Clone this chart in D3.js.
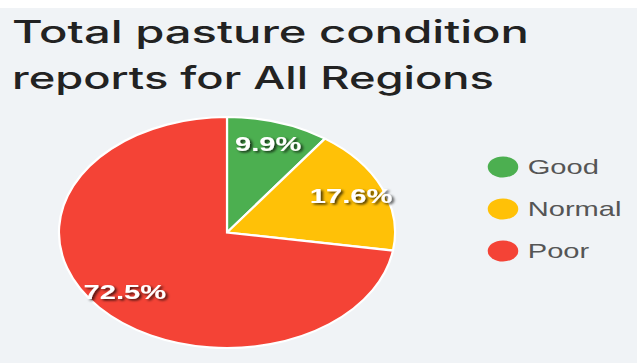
<!DOCTYPE html>
<html><head><meta charset="utf-8">
<script src="https://cdn.jsdelivr.net/npm/d3@7"></script>
<style>
html,body{margin:0;padding:0;background:#fff;}
svg{display:block;}
</style></head>
<body>
<svg id="c" width="637" height="363"></svg>
<script>
const categories = ["Good", "Normal", "Poor"];
const values = [9.9, 17.6, 72.5];
const colors = ["#4caf50", "#ffc107", "#f44336"];
const titleLines = ["Total pasture condition", "reports for All Regions"];

const W = 637, H = 363, SX = 1.455;
const svg = d3.select("#c");
svg.append("rect").attr("x",0).attr("y",8).attr("width",W).attr("height",H-8).attr("fill","#f0f3f6");

const defs = svg.append("defs");
const f = defs.append("filter").attr("id","sh").attr("x","-20%").attr("y","-40%").attr("width","140%").attr("height","180%");
f.append("feDropShadow").attr("dx",1.5).attr("dy",1.5).attr("stdDeviation",1.2).attr("flood-color","#000").attr("flood-opacity",0.75);

// title
const titleW = [517, 482];
svg.selectAll("text.title").data(titleLines).join("text")
  .attr("class","title")
  .attr("x",12).attr("y",(d,i)=>43+i*46)
  .attr("font-family","Inter, 'Open Sans', sans-serif").attr("font-size",31)
  .attr("font-weight",500)
  .attr("fill","#222")
  .attr("textLength",(d,i)=>titleW[i]).attr("lengthAdjust","spacingAndGlyphs")
  .text(d=>d);

const g = svg.append("g").attr("transform",`scale(${SX},1)`);
const cx = 227/SX, cy = 232.5, r = 115.5;

const pie = d3.pie().sort(null).value(d=>d);
const arcs = pie(values);
const arc = d3.arc().innerRadius(0).outerRadius(r);
const labelArc = d3.arc().innerRadius(r*0.8).outerRadius(r*0.8);

const pg = g.append("g").attr("transform",`translate(${cx},${cy})`);
pg.selectAll("path").data(arcs).join("path")
  .attr("d",arc).attr("fill",(d,i)=>colors[i])
  .attr("stroke","#fff").attr("stroke-width",2.2)
  .attr("vector-effect","non-scaling-stroke");

pg.selectAll("text").data(arcs).join("text")
  .attr("transform",d=>`translate(${labelArc.centroid(d)})`)
  .attr("text-anchor","middle").attr("dy","0.3em")
  .attr("font-family","'Liberation Sans', Arial, sans-serif")
  .attr("font-weight","bold").attr("font-size",20)
  .attr("fill","#fff").attr("filter","url(#sh)")
  .text(d=>d.data.toFixed(1)+"%");

// legend
const lg = g.append("g").attr("transform",`translate(${503/SX},167)`);
const items = lg.selectAll("g").data(categories).join("g")
  .attr("transform",(d,i)=>`translate(0,${i*42})`);
items.append("circle").attr("r",10.5).attr("fill",(d,i)=>colors[i]);
items.append("text").attr("x",17).attr("dy","0.36em")
  .attr("font-family","'Liberation Sans', Arial, sans-serif")
  .attr("font-size",20).attr("fill","#555").text(d=>d);
</script>
</body></html>
